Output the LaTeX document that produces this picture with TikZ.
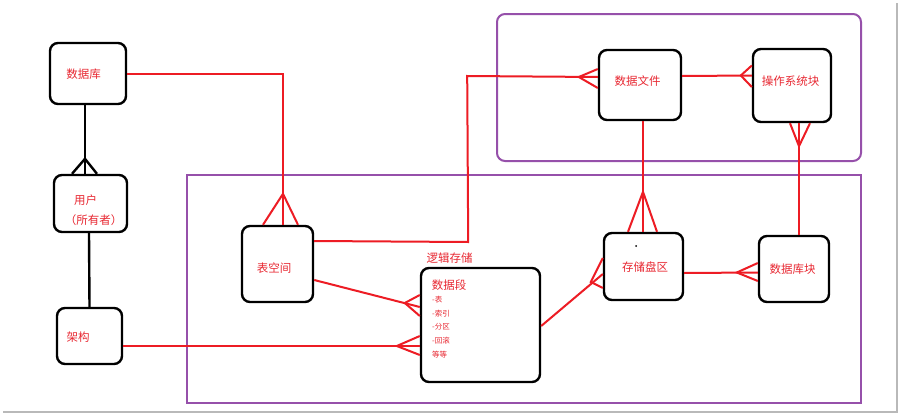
\documentclass[tikz,border=0pt]{standalone}
\usepackage{fontspec}
\newfontfamily\cjk{Noto Sans CJK SC}
\usetikzlibrary{calc}
\definecolor{ered}{RGB}{237,28,36}
\definecolor{tred}{RGB}{232,40,50}
\definecolor{fpurple}{RGB}{150,80,170}
\tikzset{
  ebox/.style={draw=black,line width=2.4pt,rounded corners=8pt,inner sep=0pt,fill=white},
  lbl/.style={text=tred,font=\cjk\fontsize{11.5}{13}\selectfont,inner sep=0pt},
  small/.style={text=tred,font=\cjk\fontsize{7.5}{9}\selectfont,inner sep=0pt,anchor=west},
  rl/.style={draw=ered,line width=2pt},
  bl/.style={draw=black,line width=2.4pt},
  frame/.style={draw=fpurple,line width=2pt}
}
\begin{document}
\begin{tikzpicture}[x=1pt,y=-1pt]
\useasboundingbox (0,0) rectangle (900,415);
\fill[white] (0,0) rectangle (900,415);
% shadow
\draw[gray!55,line width=2pt] (897,3) -- (897,413);
\draw[gray!55,line width=2pt] (3,412) -- (898,412);
% purple frames
\draw[frame,rounded corners=8pt] (497,14) rectangle (861,161);
\draw[frame] (187,175) rectangle (861,403);
% boxes
\node[ebox,minimum width=76pt,minimum height=61pt] (db) at (88,73.5) {};
\node[ebox,minimum width=73pt,minimum height=57pt] (user) at (90.5,203.5) {};
\node[ebox,minimum width=65pt,minimum height=56pt] (schema) at (89.5,336) {};
\node[ebox,minimum width=71pt,minimum height=76pt] (ts) at (277.5,264) {};
\node[ebox,minimum width=119pt,minimum height=114pt] (seg) at (480.5,325) {};
\node[ebox,minimum width=79pt,minimum height=67pt] (ext) at (643.5,266.5) {};
\node[ebox,minimum width=70pt,minimum height=66pt] (blk) at (794,269) {};
\node[ebox,minimum width=82pt,minimum height=70pt] (df) at (640,85) {};
\node[ebox,minimum width=78pt,minimum height=73pt] (osb) at (792,85.5) {};
% labels
\node[lbl] (tdb) at (83.5,74) {数据库};
\node[lbl] (tuser) at (85.5,200) {用户};
\node[lbl] (towner) at (93.5,220) {（所有者）};
\node[lbl] (tschema) at (78,337) {架构};
\node[lbl] (tts) at (274,268) {表空间};
\node[lbl] (tlog) at (449.5,258) {逻辑存储};
\node[lbl] (tseg) at (449,285) {数据段};
\node[small] (i1) at (432,300) {-表};
\node[small] (i2) at (432,314) {-索引};
\node[small] (i3) at (432,327) {-分区};
\node[small] (i4) at (432,341) {-回滚};
\node[small] (i5) at (432,355) {等等};
\node[lbl] (tdf) at (637.5,81) {数据文件};
\node[lbl] (tosb) at (790.5,81) {操作系统块};
\node[lbl] (text) at (645,267) {存储盘区};
\node[lbl] (tblk) at (792.5,269) {数据库块};
\fill[black] (636,246) circle (1pt);
% black connectors
\draw[bl] ($(db.south)+(-3,0)$) -- ($(user.north)+(-5.5,0)$);
\draw[bl] ($(user.north)+(-18.5,0)$) -- ($(user.north)+(-5.5,-15)$) -- ($(user.north)+(6.5,0)$);
\draw[bl] ($(user.south)+(-1.5,0)$) -- (schema.north);
% red connectors
% 数据库 - 表空间
\draw[rl] (db.east) -| ($(ts.north)+(5.5,0)$);
\draw[rl] ($(ts.north)+(-14.5,0)$) -- ($(ts.north)+(5.5,-31)$) -- ($(ts.north)+(20.5,0)$);
% 表空间 - 数据文件
\draw[rl] ($(ts.east)+(0,-23)$) -- ++(154,1) -- ++(-1,-166) -- ($(df.west)+(0,-8)$);
\draw[rl] ($(df.west)+(0,-16)$) -- ($(df.west)+(-19,-8)$) -- ($(df.west)+(0,3)$);
% 数据文件 - 操作系统块
\draw[rl] ($(df.east)+(0,-9)$) -- ($(osb.west)+(0,-10)$);
\draw[rl] ($(osb.west)+(0,-20)$) -- ($(osb.west)+(-11,-10)$) -- ($(osb.west)+(0,1.5)$);
% 数据文件 - 存储盘区
\draw[rl] ($(df.south)+(3,0)$) -- ($(ext.north)+(-0.5,0)$);
\draw[rl] ($(ext.north)+(-15.5,0)$) -- ($(ext.north)+(-0.5,-40)$) -- ($(ext.north)+(13.5,0)$);
% 操作系统块 - 数据库块
\draw[rl] ($(osb.south)+(7,0)$) -- ($(blk.north)+(5,0)$);
\draw[rl] ($(osb.south)+(-2,0)$) -- ($(osb.south)+(7,23)$) -- ($(osb.south)+(18,0)$);
% 数据库块 - 存储盘区
\draw[rl] ($(ext.east)+(0,6.5)$) -- ($(blk.west)+(0,3.5)$);
\draw[rl] ($(blk.west)+(0,-6)$) -- ($(blk.west)+(-21,3.5)$) -- ($(blk.west)+(0,12)$);
% 表空间 - 数据段
\draw[rl] ($(ts.east)+(0,16)$) -- ($(seg.west)+(0,-18)$);
\draw[rl] ($(seg.west)+(0,-30)$) -- ($(seg.west)+(-15,-22)$) -- ($(seg.west)+(0,-9)$);
% 架构 - 数据段
\draw[rl] ($(schema.east)+(0,10)$) -- ($(seg.west)+(0,21)$);
\draw[rl] ($(seg.west)+(0,11)$) -- ($(seg.west)+(-23,21)$) -- ($(seg.west)+(0,30)$);
% 数据段 - 存储盘区
\draw[rl] ($(seg.east)+(0,1)$) -- ($(ext.west)+(0,7.5)$);
\draw[rl] ($(ext.west)+(0,-8.5)$) -- ($(ext.west)+(-12,15.5)$) -- ($(ext.west)+(0,21.5)$);
\end{tikzpicture}
\end{document}
